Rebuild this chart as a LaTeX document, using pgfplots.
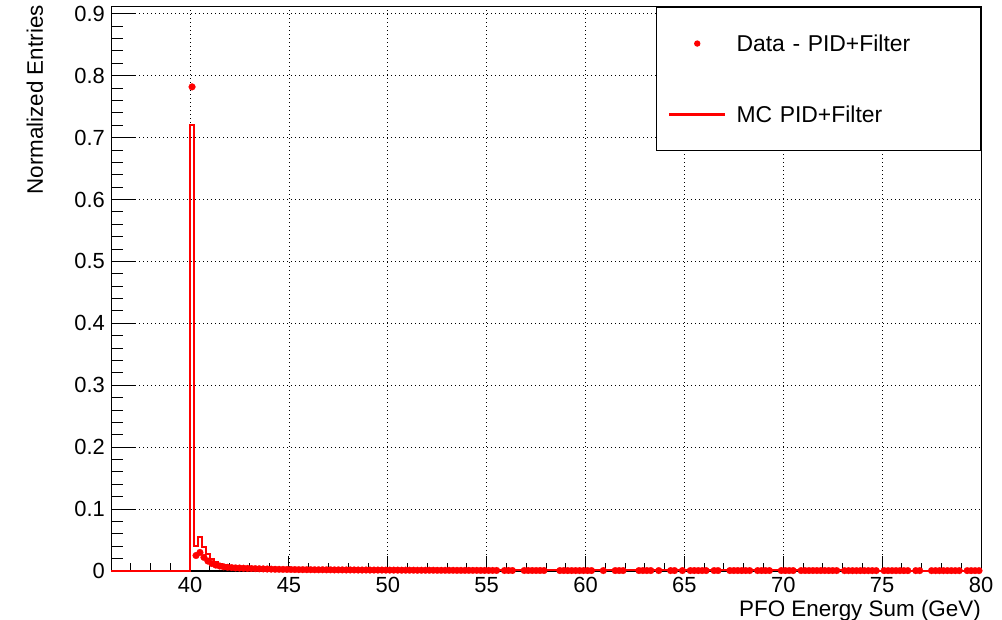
\documentclass[border=0pt]{standalone}
\usepackage{fontspec}
\setmainfont{Liberation Sans}
\usepackage{pgfplots}
\pgfplotsset{compat=1.18}
\definecolor{rootred}{RGB}{255,0,0}
\begin{document}
\begin{tikzpicture}
\useasboundingbox (0,0) rectangle (1002bp,620bp);
\pgfplotsset{
  common/.style={
    at={(111bp,49bp)}, anchor=south west, scale only axis,
    width=870bp, height=564bp,
    xmin=36, xmax=80, ymin=0, ymax=0.911,
    tick pos=left, tick align=inside,
    axis line style={black, line width=1bp},
    tick style={black, line width=1bp},
    major grid style={black, line width=0.9bp, dash pattern=on 1.2bp off 2.8bp},
    /pgf/number format/assume math mode=true,
    ticklabel style={font=\fontsize{22}{26}\selectfont},
    label style={font=\fontsize{22.5}{27}\selectfont},
  }
}
% background axis: y grid, y ticks, y label
\begin{axis}[common,
  xtick=\empty,
  ytick={0,0.1,0.2,0.3,0.4,0.5,0.6,0.7,0.8,0.9},
  yticklabels={0,0.1,0.2,0.3,0.4,0.5,0.6,0.7,0.8,0.9},
  minor ytick={0.02,0.04,0.06,0.08,0.12,0.14,0.16,0.18,0.22,0.24,0.26,0.28,0.32,0.34,0.36,0.38,0.42,0.44,0.46,0.48,0.52,0.54,0.56,0.58,0.62,0.64,0.66,0.68,0.72,0.74,0.76,0.78,0.82,0.84,0.86,0.88},
  major tick length=24bp, minor tick length=12bp,
  ymajorgrids,
  yticklabel style={anchor=east, inner sep=0pt, xshift=-6bp},
  ylabel={Normalized Entries},
  ylabel style={at={(rel axis cs:-0.0874,1.0035)}, anchor=east, inner sep=0pt},
]
\addplot[draw=none, forget plot] coordinates {(36,0) (80,0)};
\end{axis}
% main axis
\begin{axis}[common,
  xtick={40,45,50,55,60,65,70,75,80},
  minor xtick={37,38,39,41,42,43,44,46,47,48,49,51,52,53,54,56,57,58,59,61,62,63,64,66,67,68,69,71,72,73,74,76,77,78,79},
  ytick=\empty,
  major tick length=15bp, minor tick length=8bp,
  xmajorgrids,
  xticklabel style={anchor=north, inner sep=0pt, yshift=-6bp},
  xlabel={PFO Energy Sum (GeV)},
  xlabel style={at={(rel axis cs:1,0)}, anchor=north east, inner sep=0pt, yshift=-29bp},
  clip=false,
  reverse legend,
  legend cell align=left,
  legend style={at={(rel axis cs:1,1)}, anchor=north east, draw=black, line width=1bp, fill=white,
    inner xsep=12bp, inner ysep=27bp, row sep=53bp,
    font=\fontsize{23}{27}\selectfont,
    nodes={inner sep=0pt},
    /tikz/column 2/.style={nodes={text width=232bp, align=left}},
    /tikz/every odd column/.append style={column sep=10bp}},
]
\addplot[const plot mark left, rootred, line width=2bp, no marks,
  legend image code/.code={\draw[rootred, line width=2.5bp] (0bp,0bp) -- (56bp,0bp);}]
  table[row sep=\\] {
  x y\\
  36 0\\ 40.0 0.720\\ 40.2 0.040\\ 40.4 0.055\\ 40.6 0.038\\ 40.8 0.027\\
  41.0 0.020\\ 41.2 0.015\\ 41.4 0.012\\ 41.6 0.010\\ 41.8 0.0085\\
  42.0 0.0075\\ 42.2 0.007\\ 42.4 0.0065\\ 42.6 0.006\\ 42.8 0.0058\\
  43.0 0.0055\\ 43.2 0.005\\ 43.4 0.0048\\ 43.6 0.0045\\ 43.8 0.0042\\
  44.0 0.004\\ 44.4 0.0035\\ 44.8 0.003\\ 45.2 0.0027\\ 46.0 0.0024\\
  47.0 0.0022\\ 48.0 0.002\\ 50.0 0.0018\\ 52.0 0.0016\\ 55.0 0.0014\\
  58.0 0.0012\\ 62.0 0.001\\ 68.0 0.0009\\ 74.0 0.0008\\ 80.0 0.0008\\
  };
\addlegendentry{MC PID+Filter}
\addplot[only marks, mark=*, mark size=3.4bp, rootred, mark options={fill=rootred, draw=rootred, line width=0.2bp},
  legend image code/.code={\path[draw=none] (0bp,0bp) -- (56bp,0bp); \fill[rootred, draw=none] (28bp,0bp) circle (3.2bp);}]
  table[row sep=\\] {
  x y\\
  40.1 0.782\\ 40.3 0.025\\ 40.5 0.030\\ 40.7 0.022\\ 40.9 0.016\\
  41.1 0.012\\ 41.3 0.0095\\ 41.5 0.008\\ 41.7 0.0068\\ 41.9 0.006\\
  42.1 0.0055\\ 42.3 0.005\\ 42.5 0.0048\\ 42.7 0.0045\\ 42.9 0.0042\\
  43.1 0.004\\ 43.3 0.0038\\ 43.5 0.0036\\ 43.7 0.0034\\ 43.9 0.0032\\
  44.1 0.003\\ 44.3 0.0028\\ 44.5 0.0027\\ 44.7 0.0026\\ 44.9 0.0025\\
  45.1 0.0024\\ 45.3 0.0023\\ 45.5 0.0022\\ 45.7 0.0022\\ 45.9 0.0021\\
  46.1 0.0021\\ 46.3 0.002\\ 46.5 0.002\\ 46.7 0.002\\ 46.9 0.0019\\
  47.1 0.0019\\ 47.3 0.0018\\ 47.5 0.0018\\ 47.7 0.0018\\ 47.9 0.0017\\
  48.1 0.0017\\ 48.3 0.0017\\ 48.5 0.0016\\ 48.7 0.0016\\ 48.9 0.0016\\
  49.1 0.0015\\ 49.3 0.0015\\ 49.5 0.0015\\ 49.7 0.0015\\ 49.9 0.0014\\
  50.1 0.0014\\ 50.3 0.0014\\ 50.5 0.0014\\ 50.7 0.0013\\ 50.9 0.0013\\
  51.1 0.0013\\ 51.3 0.0013\\ 51.5 0.0012\\ 51.7 0.0012\\ 51.9 0.0012\\
  52.1 0.0012\\ 52.3 0.0012\\ 52.5 0.0011\\ 52.7 0.0011\\ 52.9 0.0011\\
  53.1 0.0011\\ 53.3 0.0011\\ 53.5 0.001\\ 53.7 0.001\\ 53.9 0.001\\
  54.1 0.001\\ 54.3 0.001\\ 54.5 0.001\\ 54.7 0.0009\\ 54.9 0.0009\\
  55.1 0.0009\\ 55.3 0.0009\\ 55.5 0.0009\\
  55.9 0.0008\\ 56.1 0.0008\\ 56.3 0.0008\\
  56.9 0.0008\\ 57.1 0.0008\\ 57.3 0.0008\\ 57.5 0.0008\\ 57.7 0.0008\\ 57.9 0.0008\\
  58.7 0.0007\\ 58.9 0.0007\\ 59.1 0.0007\\ 59.3 0.0007\\ 59.5 0.0007\\ 59.7 0.0007\\
  59.9 0.0007\\ 60.1 0.0007\\ 60.3 0.0007\\
  60.9 0.0007\\
  61.5 0.0007\\ 61.7 0.0007\\ 61.9 0.0007\\
  62.7 0.0007\\ 62.9 0.0007\\ 63.1 0.0007\\ 63.3 0.0007\\
  63.7 0.0007\\
  64.3 0.0007\\ 64.5 0.0007\\
  64.9 0.0007\\
  65.3 0.0007\\ 65.5 0.0007\\ 65.7 0.0007\\ 65.9 0.0007\\ 66.1 0.0007\\
  66.5 0.0007\\ 66.7 0.0007\\
  67.3 0.0007\\ 67.5 0.0007\\ 67.7 0.0007\\ 67.9 0.0007\\ 68.1 0.0007\\ 68.3 0.0007\\
  68.7 0.0007\\ 68.9 0.0007\\ 69.1 0.0007\\ 69.3 0.0007\\
  69.9 0.0007\\ 70.1 0.0007\\ 70.3 0.0007\\ 70.5 0.0007\\
  70.9 0.0007\\ 71.1 0.0007\\ 71.3 0.0007\\ 71.5 0.0007\\ 71.7 0.0007\\ 71.9 0.0007\\
  72.1 0.0007\\ 72.3 0.0007\\ 72.5 0.0007\\ 72.7 0.0007\\
  73.1 0.0006\\ 73.3 0.0006\\ 73.5 0.0006\\ 73.7 0.0006\\ 73.9 0.0006\\
  74.1 0.0006\\ 74.3 0.0006\\ 74.5 0.0006\\ 74.7 0.0006\\
  75.1 0.0006\\ 75.3 0.0006\\ 75.5 0.0006\\ 75.7 0.0006\\ 75.9 0.0006\\ 76.1 0.0006\\ 76.3 0.0006\\
  76.7 0.0006\\ 76.9 0.0006\\
  77.5 0.0006\\ 77.7 0.0006\\ 77.9 0.0006\\ 78.1 0.0006\\ 78.3 0.0006\\ 78.5 0.0006\\ 78.7 0.0006\\ 78.9 0.0006\\
  79.3 0.0006\\ 79.5 0.0006\\ 79.7 0.0006\\ 79.9 0.0006\\
  };
\addlegendentry{Data - PID+Filter}
\end{axis}
\end{tikzpicture}
\end{document}
